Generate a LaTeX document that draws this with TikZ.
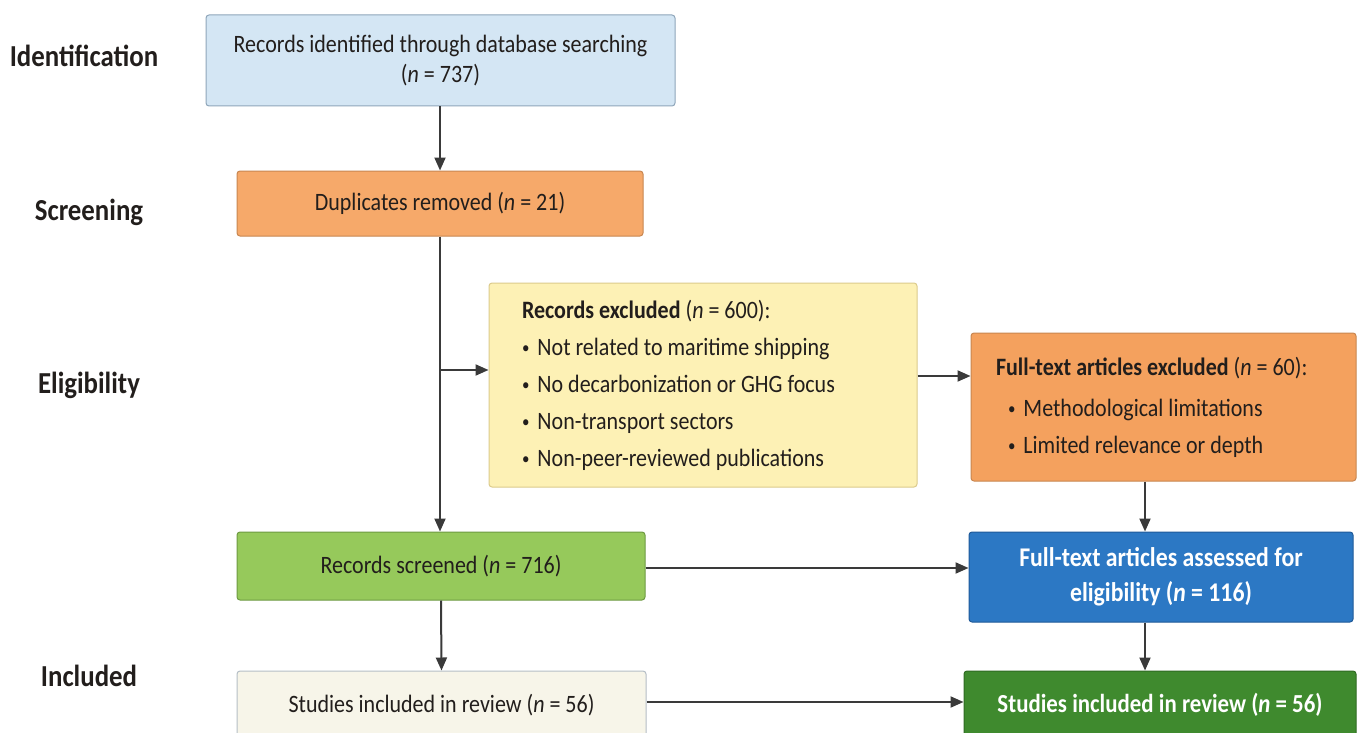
\documentclass[tikz,border=0pt]{standalone}
\usepackage{fontspec}
\setmainfont[FakeStretch=0.88]{Carlito}
\usetikzlibrary{arrows.meta}
\definecolor{idfill}{HTML}{D4E6F4}
\definecolor{iddraw}{HTML}{8FA6BA}
\definecolor{orfill}{HTML}{F6A96A}
\definecolor{ordraw}{HTML}{C88650}
\definecolor{yefill}{HTML}{FDF1B5}
\definecolor{yedraw}{HTML}{DCCB8C}
\definecolor{or2fill}{HTML}{F4A15E}
\definecolor{lgfill}{HTML}{96C95B}
\definecolor{lgdraw}{HTML}{6E9A42}
\definecolor{blfill}{HTML}{2C78C4}
\definecolor{bldraw}{HTML}{1F5A99}
\definecolor{crfill}{HTML}{F7F5E9}
\definecolor{crdraw}{HTML}{B5BEC6}
\definecolor{dgfill}{HTML}{3F8A2E}
\definecolor{dgdraw}{HTML}{2F6B22}
\definecolor{arrowc}{HTML}{3A3A3A}
\definecolor{labc}{HTML}{221E1C}
\newcommand{\mybul}{{\fontsize{17}{17}\selectfont\raisebox{1.5pt}{•}}\hspace{8pt}}
\begin{document}
\begin{tikzpicture}[x=1pt,y=-1pt,
  box/.style={draw, rounded corners=3pt, line width=1pt, inner sep=0pt, align=center,
    text=labc, font=\fontsize{25}{30}\selectfont},
  arr/.style={-{Triangle[length=13pt,width=11pt]}, line width=2pt, draw=arrowc},
  lab/.style={text=labc, font=\fontsize{30.5}{34}\selectfont\bfseries}]
\clip (0,0) rectangle (1359,733);
\fill[white] (0,0) rectangle (1359,733);
% stage labels
\node[lab] (lid) at (84,56) {Identification};
\node[lab] (lsc) at (89,212) {Screening};
\node[lab] (lel) at (89,385) {Eligibility};
\node[lab] (lin) at (89,676) {Included};
% boxes
\node[box, fill=idfill, draw=iddraw, minimum width=469pt, minimum height=91pt] (idb) at (440.5,60.5)
  {Records identified through database searching\\(\textit{n} = 737)};
\node[box, fill=orfill, draw=ordraw, minimum width=406pt, minimum height=65pt] (dup) at (440,203.5)
  {Duplicates removed (\textit{n} = 21)};
\node[box, fill=yefill, draw=yedraw, minimum width=428pt, minimum height=204pt, align=flush left,
  text width=362pt, font=\fontsize{25}{37}\selectfont] (exc) at (703,385)
  {\textbf{Records excluded} (\textit{n} = 600):\\
   \mybul Not related to maritime shipping\\
   \mybul No decarbonization or GHG focus\\
   \mybul Non-transport sectors\\
   \mybul Non-peer-reviewed publications};
\node[box, fill=or2fill, draw=ordraw, minimum width=385pt, minimum height=148pt, align=flush left,
  text width=335pt, font=\fontsize{25}{37}\selectfont] (fte) at (1163.5,407)
  {\textbf{Full-text articles excluded} (\textit{n} = 60):\\[4pt]
   \hspace*{12pt}\mybul Methodological limitations\\
   \hspace*{12pt}\mybul Limited relevance or depth};
\node[box, fill=lgfill, draw=lgdraw, minimum width=408pt, minimum height=68pt] (scr) at (441,566)
  {Records screened (\textit{n} = 716)};
\node[box, fill=blfill, draw=bldraw, minimum width=384pt, minimum height=90pt, text=white,
  font=\fontsize{27}{35}\selectfont\bfseries] (fta) at (1161,577)
  {Full-text articles assessed for\\eligibility (\textit{n} = 116)};
\node[box, fill=crfill, draw=crdraw, minimum width=409pt, minimum height=68pt] (inc) at (441.5,705)
  {Studies included in review (\textit{n} = 56)};
\node[box, fill=dgfill, draw=dgdraw, minimum width=392pt, minimum height=68pt, text=white,
  font=\fontsize{26}{30}\selectfont\bfseries] (fin) at (1160,705)
  {Studies included in review (\textit{n} = 56)};
% connectors
\coordinate (br) at (440,370);
\coordinate (rx) at (1145,0);
\draw[arr] (idb.south -| dup.north) -- (dup.north);
\draw[arr] (dup.south) -- (dup.south |- scr.north);
\draw[arr] (br) -- (br -| exc.west);
\draw[arr] (exc.east |- 0,376) -- (fte.west |- 0,376);
\draw[arr] (fte.south -| rx) -- (fta.north -| rx);
\draw[arr] (scr.east |- 0,568) -- (fta.west |- 0,568);
\draw[arr] (scr.south) -- (inc.north);
\draw[arr] (fta.south -| rx) -- (fin.north -| rx);
\draw[arr] (inc.east |- 0,702) -- (fin.west |- 0,702);
\end{tikzpicture}
\end{document}
